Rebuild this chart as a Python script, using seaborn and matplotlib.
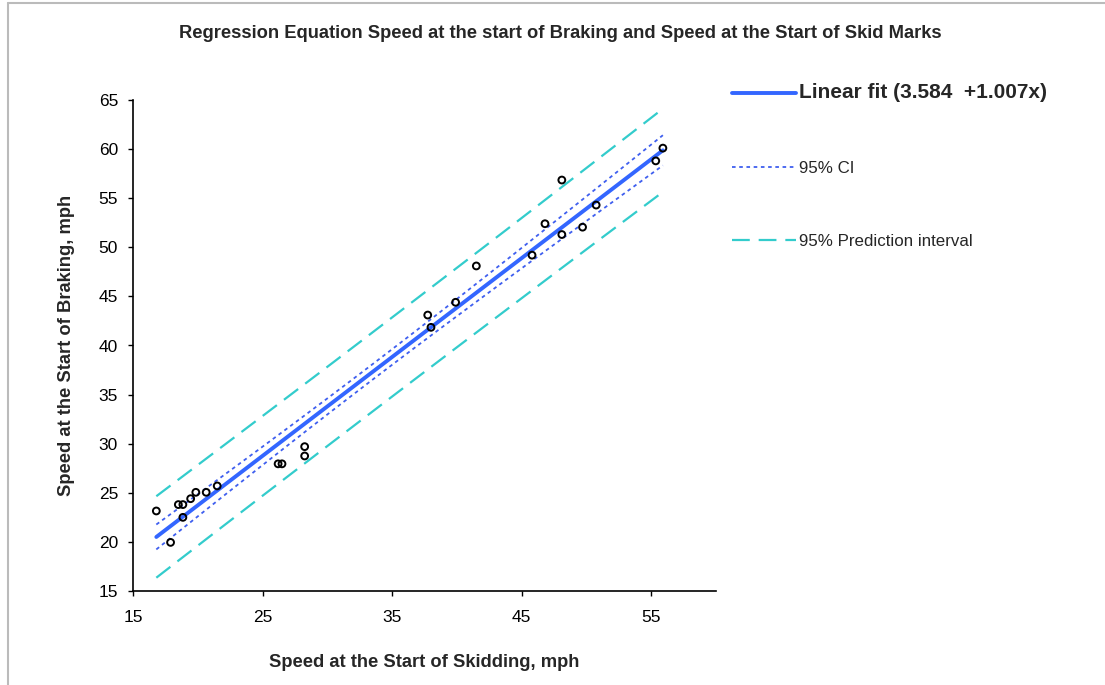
import numpy as np
import pandas as pd
import matplotlib
matplotlib.use("Agg")
import matplotlib.pyplot as plt
from matplotlib.lines import Line2D
import seaborn as sns

# ---- data ----
skid_speed = [16.8, 17.9, 18.5, 18.85, 18.85, 19.45, 19.85, 20.65, 21.5,
              26.2, 26.5, 28.25, 28.25, 37.75, 38.0, 39.9, 41.5,
              45.8, 46.8, 48.1, 48.1, 49.7, 50.75, 55.35, 55.9]
brake_speed = [23.15, 19.95, 23.8, 23.8, 22.5, 24.4, 25.05, 25.05, 25.7,
               27.95, 27.95, 29.7, 28.75, 43.1, 41.85, 44.4, 48.1,
               49.2, 52.4, 56.85, 51.3, 52.05, 54.3, 58.8, 60.1]
intercept = 3.584
slope = 1.007
t_crit = 2.069  # t(0.975, n-2) for n = 25

title = "Regression Equation Speed at the start of Braking and Speed at the Start of Skid Marks"
xlabel = "Speed at the Start of Skidding, mph"
ylabel = "Speed at the Start of Braking, mph"
fit_label = "Linear fit (3.584  +1.007x)"
ci_label = "95% CI"
pi_label = "95% Prediction interval"
xticks = [15, 25, 35, 45, 55]
yticks = [15, 20, 25, 30, 35, 40, 45, 50, 55, 60, 65]

# ---- statistics for the bands ----
x = np.array(skid_speed)
y = np.array(brake_speed)
n = len(x)
resid = y - (intercept + slope * x)
s = np.sqrt(np.sum(resid ** 2) / (n - 2))
sxx = np.sum((x - x.mean()) ** 2)
xg = np.linspace(x.min(), x.max(), 120)
yg = intercept + slope * xg
se_mean = s * np.sqrt(1 / n + (xg - x.mean()) ** 2 / sxx)
se_pred = s * np.sqrt(1 + 1 / n + (xg - x.mean()) ** 2 / sxx)
bands = pd.DataFrame({
    "x": xg, "fit": yg,
    "ci_lo": yg - t_crit * se_mean, "ci_hi": yg + t_crit * se_mean,
    "pi_lo": yg - t_crit * se_pred, "pi_hi": yg + t_crit * se_pred,
})
pts = pd.DataFrame({"x": x, "y": y})

# ---- plotting ----
sns.set_theme(style="white")
plt.rcParams["font.family"] = ["Liberation Sans", "DejaVu Sans"]

fig = plt.figure(figsize=(11.05, 6.85), dpi=100)
ax = fig.add_axes([133 / 1105, 1 - 591 / 685, (716 - 133) / 1105, (591 - 100) / 685])

fit_col = "#3366FF"
ci_col = "#3F5FEF"
pi_col = "#33CCCC"

for col in ["pi_lo", "pi_hi"]:
    sns.lineplot(data=bands, x="x", y=col, ax=ax, color=pi_col, lw=1.6,
                 linestyle=(0, (8, 4)), legend=False)
for col in ["ci_lo", "ci_hi"]:
    sns.lineplot(data=bands, x="x", y=col, ax=ax, color=ci_col, lw=1.3,
                 linestyle=(0, (2, 2)), legend=False)
sns.lineplot(data=bands, x="x", y="fit", ax=ax, color=fit_col, lw=2.8, legend=False)
sns.scatterplot(data=pts, x="x", y="y", ax=ax, marker="o", s=24,
                facecolor="none", edgecolor="black", linewidth=1.4, zorder=5)

ax.set_xlim(15, 60)
ax.set_ylim(15, 65)
ax.set_xticks(xticks)
ax.set_yticks(yticks)
ax.tick_params(axis="both", which="major", direction="out", length=3.8, width=1,
               color="black", labelsize=12.5, labelcolor="black")
ax.tick_params(axis="x", pad=10)
ax.tick_params(axis="y", pad=7)
ax.tick_params(axis="both", bottom=True, left=True)
for side in ["top", "right"]:
    ax.spines[side].set_visible(False)
for side in ["left", "bottom"]:
    ax.spines[side].set_color("black")
    ax.spines[side].set_linewidth(1.2)

ax.set_xlabel(xlabel, fontsize=13.2, fontweight="bold", labelpad=21)
ax.set_ylabel(ylabel, fontsize=13.2, fontweight="bold", labelpad=17)
fig.text(560 / 1105, 1 - 33 / 685, title, ha="center", va="center",
         fontsize=13.2, fontweight="bold")

handles = [
    Line2D([], [], color=fit_col, lw=2.8),
    Line2D([], [], color=ci_col, lw=1.3, linestyle=(0, (2, 2))),
    Line2D([], [], color=pi_col, lw=1.6, linestyle=(0, (8, 4))),
]
leg = ax.legend(handles, [fit_label, ci_label, pi_label], loc="upper left",
                bbox_to_anchor=(724 / 1105, 1 - 75 / 685), bbox_transform=fig.transFigure,
                frameon=False, fontsize=12.2, handlelength=3.75, handletextpad=0.2,
                labelspacing=3.45, borderpad=0)
texts = leg.get_texts()
texts[0].set_fontweight("bold")
texts[0].set_fontsize(15)

# outer chart border
fig.add_artist(Line2D([8 / 1105, 1], [1 - 3 / 685, 1 - 3 / 685], transform=fig.transFigure,
                      color="#BBBBBB", lw=1.5))
fig.add_artist(Line2D([8 / 1105, 8 / 1105], [0, 1 - 3 / 685], transform=fig.transFigure,
                      color="#BBBBBB", lw=1.5))

fig.savefig("out.png", dpi=100)
